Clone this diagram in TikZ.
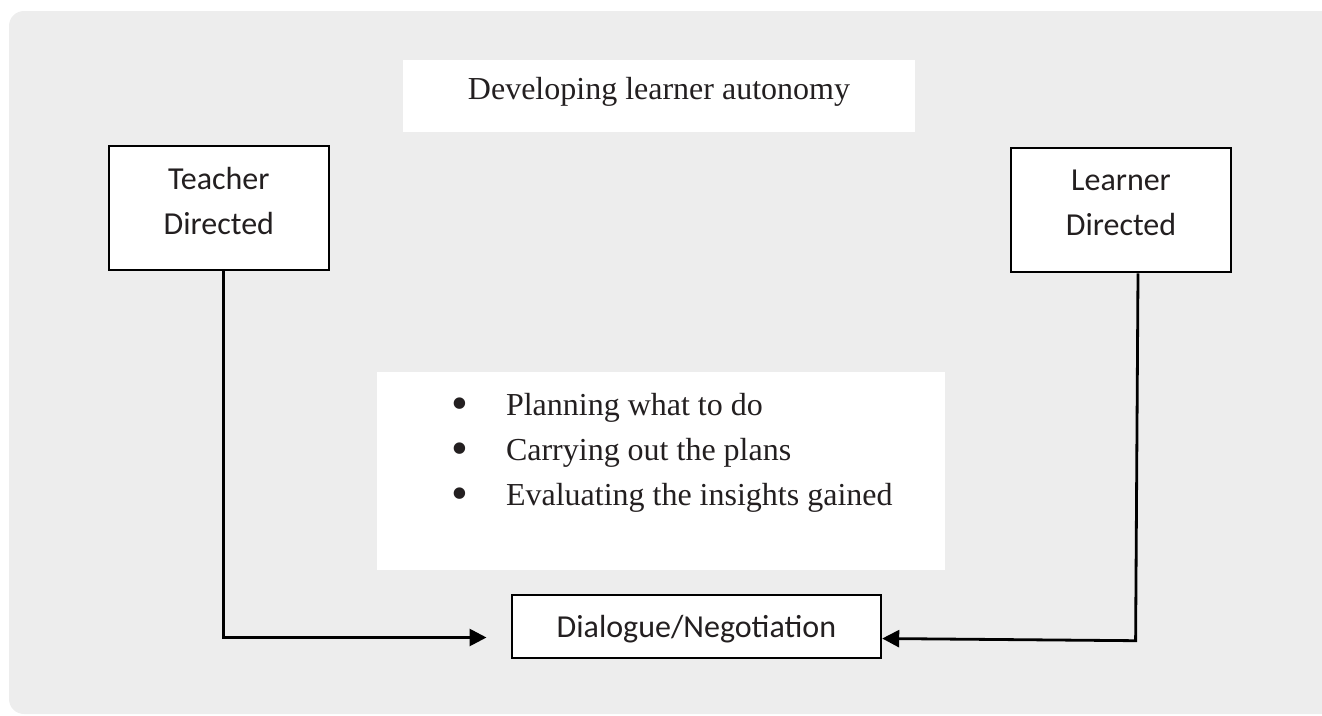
\documentclass[tikz,border=0pt]{standalone}
\usepackage{fontspec}
\setmainfont{Liberation Serif}
\newfontfamily\calibri{Carlito}
\usetikzlibrary{arrows.meta}
\definecolor{bggray}{HTML}{EDEDED}
\definecolor{ink}{HTML}{231F20}
\newcommand\bigdot{\raisebox{-4pt}{\fontsize{48}{45}\selectfont\textbullet}}
\begin{document}
\begin{tikzpicture}[x=1pt,y=-1pt,
		sidebox/.style={draw=black,line width=2.6pt,fill=white,text=ink,inner sep=0pt,
			font=\calibri\fontsize{32}{45}\selectfont,align=center},
		whitebox/.style={fill=white,text=ink,inner sep=0pt,font=\fontsize{32}{45}\selectfont},
		link/.style={line width=2.8pt,-{Triangle[length=17pt,width=17pt]}}]
		\clip (0,0) rectangle (1322,715);
		\fill[bggray,rounded corners=15pt] (9,11) rectangle (1345,714);
		\node[whitebox,minimum width=512pt,minimum height=72pt,text depth=15pt] (title) at (659,96) {Developing learner autonomy};
		\node[sidebox,minimum width=220pt,minimum height=124pt,text depth=15pt] (teacher) at (218.8,208) {Teacher\\Directed};
		\node[sidebox,minimum width=220pt,minimum height=124pt,text depth=15pt] (learner) at (1121,210) {Learner\\Directed};
		\node[whitebox,minimum width=568pt,minimum height=198pt] (plansbox) at (661,471) {};
		\node[whitebox,fill=none,anchor=base west] (plans) at (451,415) {\begin{tabular}[t]{@{}l@{\hspace{38pt}}l@{}}
				\bigdot & Planning what to do\\
				\bigdot & Carrying out the plans\\
				\bigdot & Evaluating the insights gained
			\end{tabular}};
		\node[sidebox,minimum width=369pt,minimum height=63pt,text depth=0pt] (dialogue) at (696.4,626.5) {Dialogue/Negotiation};
		\coordinate (tipL) at (486.5,637.5);
		\coordinate (bendR) at (1135.6,640.7);
		\draw[link] ([xshift=4.6pt]teacher.south) |- (tipL);
		\draw[link] ([xshift=17pt]learner.south) -- (bendR) -- ([yshift=-12pt]dialogue.east);
	\end{tikzpicture}
\end{document}
